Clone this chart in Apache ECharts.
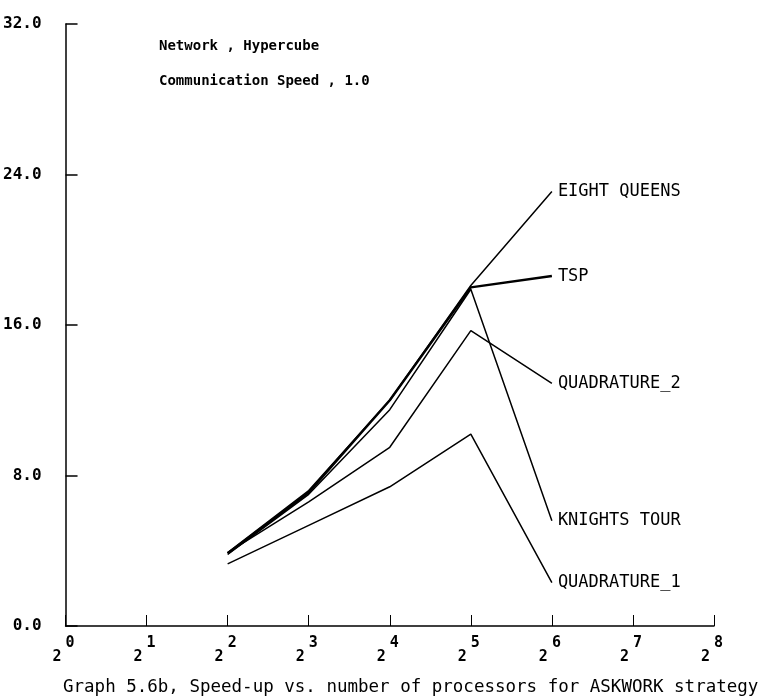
<!DOCTYPE html>
<html>
<head>
<meta charset="utf-8">
<script src="https://cdn.jsdelivr.net/npm/echarts@6/dist/echarts.min.js"></script>
<style>html,body{margin:0;padding:0;background:#fff;}#c{width:763px;height:696px;}</style>
</head>
<body>
<div id="c"></div>
<script>
// processors (powers of two)
var processors = [4, 8, 16, 32, 64];
var eightQueens = [3.9, 7.2, 12.0, 18.1, 23.1];
var tsp = [3.85, 7.1, 12.0, 18.0, 18.6];
var knightsTour = [3.8, 7.0, 11.5, 17.9, 5.6];
var quadrature2 = [3.9, 6.6, 9.5, 15.7, 12.9];
var quadrature1 = [3.3, 5.35, 7.4, 10.2, 2.3];
var seriesNames = ['EIGHT QUEENS', 'TSP', 'KNIGHTS TOUR', 'QUADRATURE_2', 'QUADRATURE_1'];
var yTicks = [0, 8, 16, 24, 32];

var FONT = 'DejaVu Sans Mono';
function pairs(ys) { return processors.map(function (p, i) { return [p, ys[i]]; }); }
function mk(name, ys, w) {
  return {
    name: name, type: 'line', data: pairs(ys), symbol: 'none',
    lineStyle: { color: '#000', width: w },
    endLabel: { show: true, formatter: '{a}', color: '#000', fontFamily: FONT, fontSize: 17, distance: 6 },
    emphasis: { disabled: true }
  };
}
var chart = echarts.init(document.getElementById('c'), null, { renderer: 'canvas' });
chart.setOption({
  animation: false,
  backgroundColor: '#fff',
  title: [
    { text: 'Network , Hypercube', left: 154, top: 34, textStyle: { fontFamily: FONT, fontSize: 14, fontWeight: 'bold', color: '#000' } },
    { text: 'Communication Speed , 1.0', left: 154, top: 69, textStyle: { fontFamily: FONT, fontSize: 14, fontWeight: 'bold', color: '#000' } },
    { text: 'Graph 5.6b, Speed-up vs. number of processors for ASKWORK strategy', left: 58, top: 673, textStyle: { fontFamily: FONT, fontSize: 17.5, fontWeight: 'normal', color: '#000' } }
  ],
  grid: { left: 65, right: 49, top: 24, bottom: 70 },
  xAxis: {
    type: 'log', logBase: 2, min: 1, max: 256, interval: 1,
    axisLine: { lineStyle: { color: '#000', width: 1.5 } },
    axisTick: { inside: true, length: 11, lineStyle: { color: '#000', width: 1 } },
    splitLine: { show: false },
    axisLabel: {
      margin: 10,
      formatter: function (v) { return '{b|2}{s|' + Math.round(Math.log(v) / Math.log(2)) + '}'; },
      rich: {
        b: { fontFamily: FONT, fontSize: 15, fontWeight: 'bold', color: '#000', padding: [14, 4, 0, 0] },
        s: { fontFamily: FONT, fontSize: 15, fontWeight: 'bold', color: '#000', padding: [0, 4, 14, 0] }
      }
    }
  },
  yAxis: {
    type: 'value', min: 0, max: 32, interval: 8,
    axisLine: { show: true, lineStyle: { color: '#000', width: 1.5 } },
    axisTick: { show: true, inside: true, length: 12, lineStyle: { color: '#000', width: 1.5 } },
    splitLine: { show: false },
    axisLabel: {
      margin: 24,
      fontFamily: FONT, fontSize: 16, fontWeight: 'bold', color: '#000',
      formatter: function (v) { return yTicks.indexOf(v) >= 0 ? v.toFixed(1) : ''; }
    }
  },
  series: [
    mk(seriesNames[0], eightQueens, 1.5),
    mk(seriesNames[1], tsp, 2.5),
    mk(seriesNames[2], knightsTour, 1.5),
    mk(seriesNames[3], quadrature2, 1.5),
    mk(seriesNames[4], quadrature1, 1.5)
  ]
});
</script>
</body>
</html>
